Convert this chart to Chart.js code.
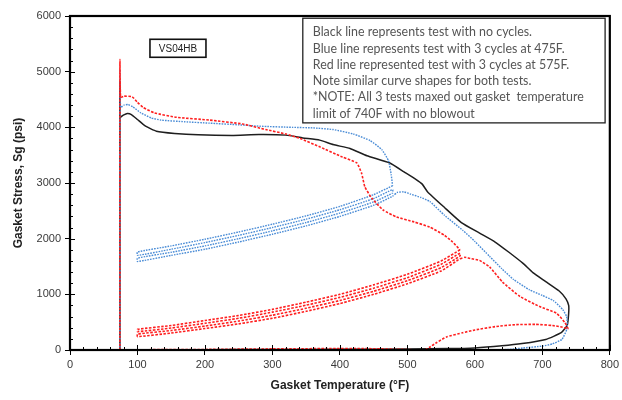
<!DOCTYPE html>
<html>
<head>
<meta charset="utf-8">
<script src="https://cdn.jsdelivr.net/npm/chart.js@4.4.1/dist/chart.umd.min.js"></script>
<style>
  html, body { margin: 0; padding: 0; background: #fff; }
  #wrap { width: 622px; height: 400px; }
</style>
</head>
<body>
<div id="wrap"><canvas id="gasketChart" width="622" height="400"></canvas></div>
<script>
// ---- data: [temperature °F, gasket stress psi] ----

// no cycles (black)
const blackCurve = [
  [74, 0], [74, 4820], [74, 4180], [79, 4220], [85, 4250], [91, 4230], [100, 4140],
  [112, 4020], [128, 3930], [155, 3890], [190, 3865], [240, 3855], [280, 3870],
  [320, 3860], [345, 3810], [370, 3770], [390, 3690], [415, 3620], [440, 3490],
  [474, 3360], [495, 3200], [512, 3070], [522, 2980], [530, 2840], [555, 2560],
  [580, 2290], [607, 2100], [630, 1940], [650, 1760], [671, 1560], [686, 1390],
  [705, 1230], [725, 1060], [735, 920], [739, 800], [739, 660], [737, 450],
  [728, 310], [705, 190], [670, 115], [640, 75], [600, 38], [560, 25], [500, 18],
  [400, 12], [300, 8], [200, 6], [100, 4]
];

// 3 cycles at 475F (blue)
const blueLoad = [
  [74, 0], [74, 5030], [75, 4360], [80, 4400], [86, 4410], [93, 4370], [105, 4260],
  [120, 4170], [135, 4130], [170, 4100], [207, 4075], [250, 4045], [281, 4020],
  [330, 4000], [360, 3990], [390, 3960], [420, 3880], [445, 3760], [462, 3600],
  [472, 3400], [476, 3150], [478, 2950]
];
const blueCycleTemps = [100, 150, 200, 250, 300, 350, 400, 450, 478];
const blueCycle1 = [1760, 1870, 1990, 2120, 2260, 2410, 2580, 2790, 2950];
const blueCycle2 = [1700, 1810, 1930, 2060, 2200, 2350, 2520, 2720, 2880];
const blueCycle3 = [1650, 1755, 1870, 2000, 2140, 2290, 2460, 2660, 2820];
const blueCycle4 = [1590, 1700, 1810, 1940, 2080, 2230, 2400, 2600, 2760];
const blueFinal = [
  [478, 2760], [485, 2830], [495, 2840], [505, 2800], [520, 2740], [533, 2670],
  [555, 2420], [582, 2150], [600, 1950], [622, 1680], [640, 1460], [657, 1270],
  [681, 1080], [700, 980], [716, 890], [730, 730], [736, 600], [737, 450],
  [736, 360], [729, 190], [715, 110], [700, 70], [671, 36], [650, 10], [620, 0]
];

// 3 cycles at 575F (red)
const redLoad = [
  [74, 0], [74, 5210], [75, 4540], [80, 4560], [92, 4550], [100, 4450], [108, 4360],
  [125, 4260], [158, 4180], [207, 4130], [256, 4060], [290, 3960], [320, 3880],
  [341, 3800], [370, 3650], [404, 3465], [425, 3360], [432, 3180], [437, 2930],
  [447, 2730], [464, 2515], [484, 2390], [510, 2300], [533, 2210], [555, 2060],
  [567, 1940], [578, 1800]
];
const redCycleTemps = [100, 150, 200, 250, 300, 350, 400, 450, 500, 550, 578];
const redCycle1 = [370, 440, 530, 620, 730, 860, 1000, 1170, 1360, 1600, 1800];
const redCycle2 = [330, 395, 480, 570, 680, 805, 945, 1110, 1300, 1540, 1740];
const redCycle3 = [285, 350, 430, 520, 625, 750, 890, 1055, 1245, 1480, 1690];
const redCycle4 = [240, 305, 385, 470, 570, 695, 835, 1000, 1190, 1420, 1640];
const redFinal = [
  [578, 1640], [585, 1665], [595, 1640], [607, 1610], [622, 1490], [641, 1220],
  [667, 960], [696, 780], [721, 660], [733, 500], [738, 380], [730, 410],
  [715, 440], [690, 460], [660, 455], [630, 420], [600, 360], [582, 310],
  [558, 235], [543, 130], [533, 50], [526, 0], [480, 15], [440, 25], [380, 25],
  [300, 20], [200, 10], [100, 5]
];

const noteLines = [
  'Black line represents test with no cycles.',
  'Blue line represents test with 3 cycles at 475F.',
  'Red line represented test with 3 cycles at 575F.',
  'Note similar curve shapes for both tests.',
  '*NOTE: All 3 tests maxed out gasket  temperature',
  'limit of 740F with no blowout'
];
const specimenLabel = 'VS04HB';

// ---- helpers ----
const toPoints = pairs => pairs.map(([x, y]) => ({ x, y }));

// walk the cycle lines back and forth: down, up, down, up
function cyclePath(temps, lines) {
  const pts = [];
  lines.forEach((vals, i) => {
    const order = temps.map((_, k) => k);
    if (i % 2 === 0) order.reverse();
    order.forEach(k => pts.push({ x: temps[k], y: vals[k] }));
  });
  return pts;
}

const RED = '#ff1f1f';
const BLUE = '#4a8cd6';
const BLACK = '#1e1e1e';

const redStyle = { borderColor: RED, borderWidth: 1.6, borderDash: [2.5, 1.5] };
const blueStyle = { borderColor: BLUE, borderWidth: 1.4, borderDash: [1.6, 1.1] };
const blackStyle = { borderColor: BLACK, borderWidth: 1.5 };

const mkSet = (data, style) => Object.assign({
  data, showLine: true, pointRadius: 0, fill: false, tension: 0.15
}, style);

const datasets = [
  mkSet(toPoints(redLoad), redStyle),
  mkSet(cyclePath(redCycleTemps, [redCycle1, redCycle2, redCycle3, redCycle4]), redStyle),
  mkSet(toPoints(redFinal), redStyle),
  mkSet(toPoints(blueLoad), blueStyle),
  mkSet(cyclePath(blueCycleTemps, [blueCycle1, blueCycle2, blueCycle3, blueCycle4]), blueStyle),
  mkSet(toPoints(blueFinal), blueStyle),
  mkSet(toPoints(blackCurve), blackStyle)
];

// frame, inside ticks and the two text boxes
const frameAndNotes = {
  id: 'frameAndNotes',
  afterDraw(chart) {
    const { ctx, chartArea: a } = chart;
    const x = chart.scales.x, y = chart.scales.y;
    ctx.save();

    ctx.strokeStyle = '#000';
    ctx.lineWidth = 1;
    for (let v = 0; v <= 800; v += 20) {
      const px = Math.round(x.getPixelForValue(v)) + 0.5;
      const len = v % 100 === 0 ? 5 : 3;
      ctx.beginPath(); ctx.moveTo(px, a.bottom); ctx.lineTo(px, a.bottom - len); ctx.stroke();
    }
    for (let v = 0; v <= 6000; v += 200) {
      const py = Math.round(y.getPixelForValue(v)) + 0.5;
      const len = v % 1000 === 0 ? 5 : 3;
      ctx.beginPath(); ctx.moveTo(a.left, py); ctx.lineTo(a.left + len, py); ctx.stroke();
    }

    ctx.lineWidth = 2.2;
    ctx.strokeRect(a.left, a.top, a.right - a.left, a.bottom - a.top);

    // notes box
    const bx0 = x.getPixelForValue(345), bx1 = x.getPixelForValue(793);
    const by0 = y.getPixelForValue(5960), by1 = y.getPixelForValue(4080);
    ctx.fillStyle = '#fff';
    ctx.fillRect(bx0, by0, bx1 - bx0, by1 - by0);
    ctx.lineWidth = 1.3;
    ctx.strokeStyle = '#222';
    ctx.strokeRect(bx0, by0, bx1 - bx0, by1 - by0);
    ctx.fillStyle = '#555';
    ctx.font = '12.4px Lato, sans-serif';
    ctx.textBaseline = 'middle';
    ctx.textAlign = 'left';
    noteLines.forEach((t, i) => ctx.fillText(t, bx0 + 10, by0 + 14 + i * 16.3));

    // specimen label
    const cx = x.getPixelForValue(160), cy = y.getPixelForValue(5420);
    ctx.lineWidth = 1.6;
    ctx.strokeStyle = '#111';
    ctx.strokeRect(cx - 28, cy - 9, 56, 18);
    ctx.fillStyle = '#222';
    ctx.font = '10px "Liberation Sans", Arial, sans-serif';
    ctx.textAlign = 'center';
    ctx.fillText(specimenLabel, cx, cy + 0.5);

    ctx.restore();
  }
};

const tickFont = { family: '"Liberation Sans", Arial, sans-serif', size: 11 };
const titleFont = { family: '"Liberation Sans", Arial, sans-serif', size: 12, weight: 'bold' };
const plainNumber = v => String(v);

new Chart(document.getElementById('gasketChart').getContext('2d'), {
  type: 'scatter',
  data: { datasets },
  options: {
    responsive: false,
    animation: false,
    layout: { padding: { top: 16, right: 12, left: 0, bottom: 0 } },
    plugins: { legend: { display: false }, tooltip: { enabled: false } },
    scales: {
      x: {
        type: 'linear', min: 0, max: 800,
        ticks: { stepSize: 100, color: '#3a3a3a', font: tickFont, padding: 3, maxRotation: 0, callback: plainNumber },
        grid: { drawOnChartArea: false, drawTicks: true, tickLength: 5, color: '#000', lineWidth: 1 },
        border: { color: '#000', width: 2 },
        title: { display: true, text: 'Gasket Temperature (°F)', color: '#222', font: titleFont, padding: { top: 0, bottom: 7 } },
        afterFit(s) { s.height = 50; }
      },
      y: {
        type: 'linear', min: 0, max: 6000,
        ticks: { stepSize: 1000, color: '#3a3a3a', font: tickFont, padding: 4, callback: plainNumber },
        grid: { drawOnChartArea: false, drawTicks: true, tickLength: 5, color: '#000', lineWidth: 1 },
        border: { color: '#000', width: 2 },
        title: { display: true, text: 'Gasket Stress, Sg (psi)', color: '#222', font: titleFont, padding: { top: 11, bottom: 0 } },
        afterFit(s) { s.width = 70; }
      }
    }
  },
  plugins: [frameAndNotes]
});
</script>
</body>
</html>
